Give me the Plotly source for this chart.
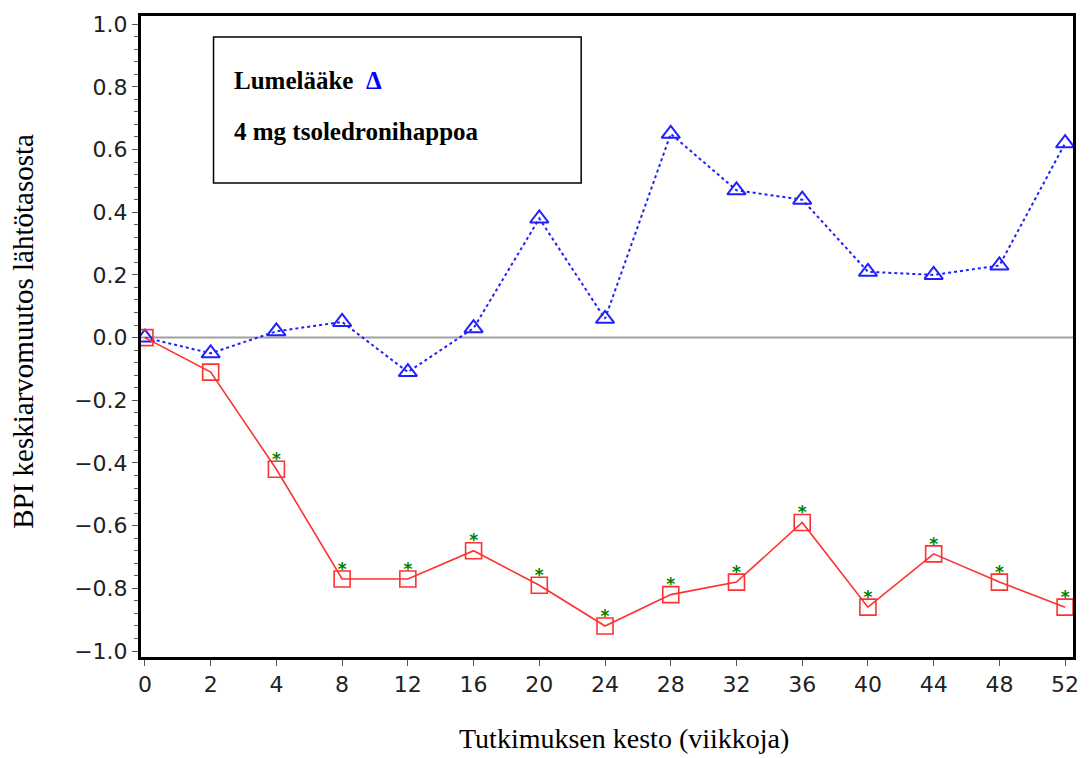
import plotly.graph_objects as go

weeks = ["0", "2", "4", "8", "12", "16", "20", "24", "28", "32", "36", "40", "44", "48", "52"]
placebo = [0.0, -0.05, 0.02, 0.05, -0.11, 0.03, 0.38, 0.06, 0.65, 0.47, 0.44, 0.21, 0.20, 0.23, 0.62]
zoledronic = [0.0, -0.11, -0.42, -0.77, -0.77, -0.68, -0.79, -0.92, -0.82, -0.78, -0.59, -0.86, -0.69, -0.78, -0.86]
significant = [False, False, True, True, True, True, True, True, True, True, True, True, True, True, True]

x_idx = list(range(len(weeks)))

L, R, T, B = 141, 1079, 16, 657
PW, PH = R - L, B - T

fig = go.Figure()

fig.add_hline(y=0, line=dict(color="#a0a0a0", width=2), layer="below")

fig.add_trace(go.Scatter(
    x=x_idx, y=placebo, mode="lines+markers", name="Lumelääke",
    line=dict(color="#2020ff", width=2, dash="dot"),
    marker=dict(symbol="triangle-up-open", size=16, color="#2020ff", line=dict(width=2)),
))
fig.add_trace(go.Scatter(
    x=x_idx, y=zoledronic, mode="lines+markers", name="4 mg tsoledronihappoa",
    line=dict(color="#ff3030", width=1.6),
    marker=dict(symbol="square-open", size=16, color="#ff3030", line=dict(width=1.6)),
))
sx = [x for x, s in zip(x_idx, significant) if s]
sy = [v for v, s in zip(zoledronic, significant) if s]
fig.add_trace(go.Scatter(
    x=sx, y=sy, mode="text", text=["<b>*</b>"] * len(sx), textposition="top center",
    textfont=dict(color="#008000", size=17, family="DejaVu Sans"),
    showlegend=False,
))

# legend box
fig.add_shape(type="rect", xref="paper", yref="paper",
              x0=(214 - L) / PW, x1=(584 - L) / PW,
              y0=(B - 183) / PH, y1=(B - 37) / PH,
              line=dict(color="black", width=1.5), fillcolor="white")
fig.add_annotation(xref="paper", yref="paper", x=(233 - L) / PW, y=(B - 81) / PH,
                   xanchor="left", yanchor="middle", showarrow=False,
                   text="<b>Lumelääke  <span style='color:#0000ff'>Δ</span></b>",
                   font=dict(family="Liberation Serif", size=25, color="black"))
fig.add_annotation(xref="paper", yref="paper", x=(233 - L) / PW, y=(B - 131) / PH,
                   xanchor="left", yanchor="middle", showarrow=False,
                   text="<b>4 mg tsoledronihappoa</b>",
                   font=dict(family="Liberation Serif", size=25, color="black"))

# axis titles
fig.add_annotation(xref="paper", yref="paper", x=(627 - L) / PW, y=(B - 756) / PH,
                   xanchor="center", yanchor="bottom", showarrow=False,
                   text="Tutkimuksen kesto (viikkoja)",
                   font=dict(family="Liberation Serif", size=28, color="black"))
fig.add_annotation(xref="paper", yref="paper", x=(22 - L) / PW, y=(B - 331) / PH,
                   xanchor="center", yanchor="middle", showarrow=False, textangle=-90,
                   text="BPI keskiarvomuutos lähtötasosta",
                   font=dict(family="Liberation Serif", size=29, color="black"))

fig.update_layout(
    width=1089, height=758,
    margin=dict(l=L, r=1089 - R, t=T, b=758 - B),
    paper_bgcolor="white", plot_bgcolor="white",
    showlegend=False,
    font=dict(family="DejaVu Sans", size=20, color="black"),
)
fig.update_xaxes(
    range=[-0.06, 14.12], tickmode="array", tickvals=x_idx, ticktext=weeks,
    showgrid=False, zeroline=False, showline=True, linecolor="black", linewidth=3, mirror=True,
    ticks="outside", ticklen=6, tickcolor="#555", tickfont=dict(size=22, family="DejaVu Sans", color="#222"),
)
fig.update_yaxes(
    range=[-1.019, 1.026], tickmode="array", tickvals=[-1.0, -0.8, -0.6, -0.4, -0.2, 0.0, 0.2, 0.4, 0.6, 0.8, 1.0],
    ticktext=["−1.0", "−0.8", "−0.6", "−0.4", "−0.2", "0.0", "0.2", "0.4", "0.6", "0.8", "1.0"],
    showgrid=False, zeroline=False, showline=True, linecolor="black", linewidth=3, mirror=True,
    ticks="outside", ticklen=6, tickcolor="#555", tickfont=dict(size=22, family="DejaVu Sans", color="#222"),
    minor=dict(ticks="outside", ticklen=4, dtick=0.04, tick0=0, tickcolor="#555"),
)

fig.write_html(
    "out.html",
    config={"displayModeBar": False},
    post_script="document.body.style.margin='0';document.body.style.padding='0';"
                "document.documentElement.style.overflow='hidden';",
)
